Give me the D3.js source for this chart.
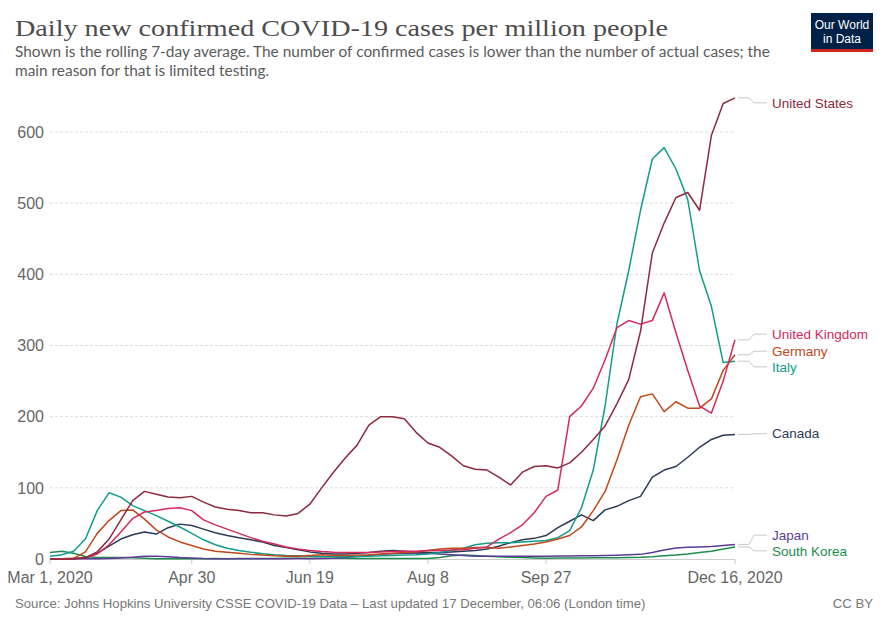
<!DOCTYPE html>
<html><head><meta charset="utf-8">
<script src="https://cdn.jsdelivr.net/npm/d3@7"></script>
<style>body{margin:0;background:#fff}svg{display:block}</style>
</head><body>
<svg id="c" width="889" height="627"></svg>
<script>
// ---------------- DATA ----------------
const dates = ["2020-03-01","2020-03-06","2020-03-11","2020-03-16","2020-03-21","2020-03-26","2020-03-31","2020-04-05","2020-04-10","2020-04-15",
"2020-04-20","2020-04-25","2020-04-30","2020-05-05","2020-05-10","2020-05-15","2020-05-20","2020-05-25","2020-05-30","2020-06-04",
"2020-06-09","2020-06-14","2020-06-19","2020-06-24","2020-06-29","2020-07-04","2020-07-09","2020-07-14","2020-07-19","2020-07-24",
"2020-07-29","2020-08-03","2020-08-08","2020-08-13","2020-08-18","2020-08-23","2020-08-28","2020-09-02","2020-09-07","2020-09-12",
"2020-09-17","2020-09-22","2020-09-27","2020-10-02","2020-10-07","2020-10-12","2020-10-17","2020-10-22","2020-10-27","2020-11-01",
"2020-11-06","2020-11-11","2020-11-16","2020-11-21","2020-11-26","2020-12-01","2020-12-06","2020-12-11","2020-12-16"];

const unitedStates = [0,0.1,0.5,2,10,28,55,82,95,91,87,86,88,80,73,70,68,65,65,62,60.5,64,77,100,122,142,160,188,200,200,197,178,163,157,145,131,126,125,115,104,122,130,131,128,135,150,168,187,218,252,320,430,472,508,515,490,595,640,648];
const unitedKingdom = [0,0.1,0.5,2,7,20,38,57,66,68,71,72,68,55,48,42,36,30,25,21,17,14,12,10.5,9.5,9,9,9,10,10.5,11,11,12,12,12.5,13,15,17,28,37,48,65,88,97,200,215,240,280,325,335,330,335,374,318,265,215,205,250,308];
const germany = [0,0.2,1,10,36,54,68,69,56,41,31,24,19,14,11,9.5,8,6.5,5.5,4.5,4,4,5,6,5,5,5.5,6,7,8,9,10,12,14,15,15,16,16,15,17,19,21,24,28,33,45,68,95,139,188,228,232,207,221,212,212,225,265,287];
const italy = [4,6,11,28,68,93,87,75,68,61,53,45,36,27,20,15,12,9.5,7.5,6,5,4.5,4,3.5,3,3,3.5,4,4.5,5,5.5,6,7,9,12,15,20,22,23,23,24,25,26,30,40,72,125,215,330,405,490,562,578,548,505,405,355,276,278];
const canada = [0,0.1,0.3,1.5,8,18,28,34,38,35,44,49,47,42,37,33,30,27,24,19,16,13,10,8,7,7,8,9,11,12,11,10,9,9,10,11,12,14,18,23,27,29,33,44,53,62,54,69,74,82,88,115,125,130,143,157,168,174,175];
const japan = [0.1,0.2,0.3,0.3,0.4,0.8,1.5,2.5,3.8,4,3,2,1.5,0.8,0.5,0.3,0.3,0.4,0.3,0.4,0.5,0.6,0.5,0.8,1.2,2,3.5,5,6.5,7.5,8,8.5,8,7,6,5,4,4,4,4,4,4,4,4.2,4.3,4.5,4.5,4.8,5.2,5.8,6.5,9,12.5,15.5,16.5,17,17.5,19,20.5];
const southKorea = [9,11,8,3.5,2,2,2,1.7,1,0.5,0.3,0.2,0.2,0.4,0.6,0.4,0.6,0.8,0.8,0.8,0.9,0.9,0.9,1,0.9,0.9,0.8,0.8,0.8,0.7,0.7,0.7,0.7,2,4.5,5.5,5,4,3,2.3,2,1.5,1.2,1.3,1.4,1.5,1.6,1.8,1.9,2,2.3,3,4.5,5.5,7,9,11,14,17];

const seriesNames = ["South Korea","Japan","Canada","Italy","Germany","United Kingdom","United States"];
const seriesValues = [southKorea, japan, canada, italy, germany, unitedKingdom, unitedStates];
const seriesColors = ["#1e8c4c","#5b3c97","#2c3a56","#139c8c","#c0471c","#d42a5c","#8d2a40"];
// label placement (value at which the label text sits, avoids overlap)
const labelValues = [11.5, 33.5, 176, 270, 292, 316, 641];

const yTicks = [0,100,200,300,400,500,600];
const xTickDates = ["2020-03-01","2020-04-30","2020-06-19","2020-08-08","2020-09-27","2020-12-16"];
const xTickLabels = ["Mar 1, 2020","Apr 30","Jun 19","Aug 8","Sep 27","Dec 16, 2020"];

const titleText = "Daily new confirmed COVID-19 cases per million people";
const subtitleLines = ["Shown is the rolling 7-day average. The number of confirmed cases is lower than the number of actual cases; the",
                       "main reason for that is limited testing."];
const sourceText = "Source: Johns Hopkins University CSSE COVID-19 Data \u2013 Last updated 17 December, 06:06 (London time)";

// ---------------- CHART ----------------
const svg = d3.select("#c");
const parse = d3.timeParse("%Y-%m-%d");
const x = d3.scaleTime().domain([parse(dates[0]), parse(dates[dates.length-1])]).range([50, 735]);
const y = d3.scaleLinear().domain([0, 600]).range([559, 132]);

function fit(sel, target){
  const w = sel.node().getComputedTextLength();
  const fs = parseFloat(sel.attr("font-size"));
  sel.attr("font-size", (fs*target/w).toFixed(2));
}

// title
svg.append("text").attr("x",15).attr("y",36).attr("font-family","Liberation Serif, serif")
  .attr("font-size",23).attr("fill","#4d4d4d").attr("textLength",653).attr("lengthAdjust","spacingAndGlyphs")
  .text(titleText);
const sub1 = svg.append("text").attr("x",15).attr("y",57).attr("font-family","Lato, Arial, sans-serif")
  .attr("font-size",14).attr("fill","#5b5b5b").text(subtitleLines[0]);
fit(sub1, 755);
const fsSub = sub1.attr("font-size");
svg.append("text").attr("x",15).attr("y",76).attr("font-family","Lato, Arial, sans-serif")
  .attr("font-size",fsSub).attr("fill","#5b5b5b").text(subtitleLines[1]);

// logo
const logo = svg.append("g");
logo.append("rect").attr("x",811).attr("y",13).attr("width",62).attr("height",39).attr("fill","#002147");
logo.append("rect").attr("x",811).attr("y",49).attr("width",62).attr("height",3).attr("fill","#ce261e");
logo.append("text").attr("x",842).attr("y",29).attr("text-anchor","middle").attr("fill","#fff")
  .attr("font-family","Liberation Sans Narrow, Arial Narrow, Liberation Sans, sans-serif").attr("font-size",12).text("Our World");
logo.append("text").attr("x",842).attr("y",43).attr("text-anchor","middle").attr("fill","#fff")
  .attr("font-family","Liberation Sans Narrow, Arial Narrow, Liberation Sans, sans-serif").attr("font-size",12).text("in Data");

// gridlines + y labels
const yAxis = svg.append("g");
yTicks.forEach(t=>{
  if(t>0) yAxis.append("line").attr("x1",50).attr("x2",735).attr("y1",y(t)).attr("y2",y(t))
    .attr("stroke","#dddddd").attr("stroke-dasharray","3,2").attr("stroke-width",1);
  yAxis.append("text").attr("x",44).attr("y",y(t)).attr("dy","0.36em").attr("text-anchor","end")
    .attr("font-family","Liberation Sans, Arial, sans-serif").attr("font-size",16).attr("fill","#666").text(t);
});
// x axis
const xAxis = svg.append("g");
xAxis.append("line").attr("x1",50).attr("x2",735).attr("y1",559.5).attr("y2",559.5).attr("stroke","#cccccc");
xTickDates.forEach((d,i)=>{
  const xx = x(parse(d));
  xAxis.append("line").attr("x1",xx).attr("x2",xx).attr("y1",559.5).attr("y2",564).attr("stroke","#cccccc");
  xAxis.append("text").attr("x",xx).attr("y",583).attr("text-anchor","middle")
    .attr("font-family","Liberation Sans, Arial, sans-serif").attr("font-size",16).attr("fill","#666").text(xTickLabels[i]);
});

// lines
const line = d3.line().x((v,i)=>x(parse(dates[i]))).y(v=>y(v));
seriesValues.forEach((vals,k)=>{
  svg.append("path").attr("d",line(vals)).attr("fill","none").attr("stroke",seriesColors[k])
    .attr("stroke-width",1.5).attr("stroke-linejoin","round");
});

// labels with leader lines
seriesValues.forEach((vals,k)=>{
  const ye = y(vals[vals.length-1]);
  const yl = y(labelValues[k]);
  const xe = x(parse(dates[dates.length-1]));
  svg.append("path").attr("d",`M${xe+3},${ye}H${xe+14}L${xe+19},${yl}H${xe+32}`)
    .attr("fill","none").attr("stroke","#c8c8c8").attr("stroke-width",1);
  svg.append("text").attr("x",xe+37).attr("y",yl).attr("dy","0.35em")
    .attr("font-family","Liberation Sans, Arial, sans-serif").attr("font-size",13.5)
    .attr("fill",seriesColors[k]).text(seriesNames[k]);
});

// footer
const src = svg.append("text").attr("x",15).attr("y",608).attr("font-family","Liberation Sans, Arial, sans-serif")
  .attr("font-size",12).attr("fill","#777").text(sourceText);
fit(src, 631);
svg.append("text").attr("x",873).attr("y",608).attr("text-anchor","end").attr("font-family","Liberation Sans, Arial, sans-serif")
  .attr("font-size",src.attr("font-size")).attr("fill","#777").text("CC BY");
</script>
</body></html>
